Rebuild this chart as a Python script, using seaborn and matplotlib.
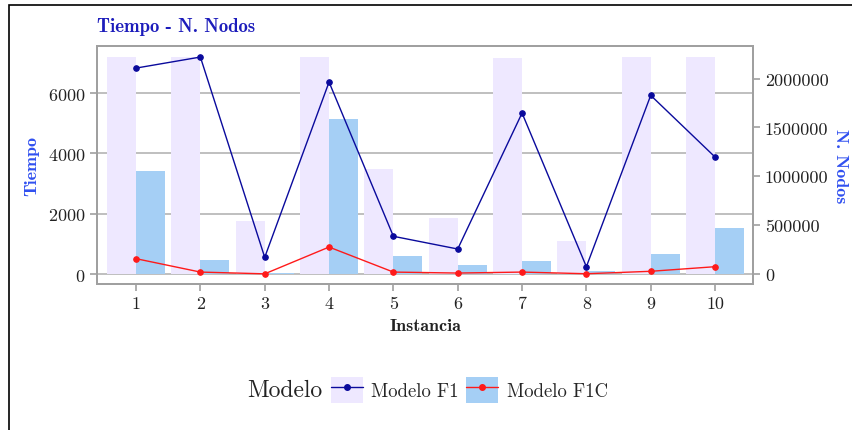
import matplotlib
matplotlib.use("Agg")
import matplotlib.pyplot as plt
import numpy as np
import pandas as pd
import seaborn as sns
from matplotlib.patches import Patch, Rectangle
from matplotlib.lines import Line2D
from matplotlib.ticker import FuncFormatter

instancias = [1, 2, 3, 4, 5, 6, 7, 8, 9, 10]
tiempo_f1 = [7200, 7200, 1760, 7200, 3480, 1860, 7170, 1095, 7200, 7200]
tiempo_f1c = [3420, 465, 30, 5140, 590, 290, 430, 90, 660, 1520]
nodos_f1 = [2107000, 2220000, 171000, 1964000, 386000, 256000, 1647000, 75000, 1828000, 1197000]
nodos_f1c = [157000, 20000, 2000, 276000, 20000, 10000, 20000, 3000, 28000, 75000]
modelos = ["Modelo F1", "Modelo F1C"]

bar_colors = ["#EEE8FF", "#A5CFF5"]
line_colors = ["#0A0A9C", "#FF1A1A"]
grid_gray = "#B4B4B4"
spine_gray = "#A0A0A0"

df = pd.DataFrame({
    "Instancia": instancias * 2,
    "Modelo": [modelos[0]] * 10 + [modelos[1]] * 10,
    "Tiempo": tiempo_f1 + tiempo_f1c,
    "Nodos": nodos_f1 + nodos_f1c,
})

sns.set_style("white")
plt.rcParams["font.family"] = ["cmr10", "DejaVu Serif"]
plt.rcParams["axes.formatter.use_mathtext"] = True

fig = plt.figure(figsize=(8.53, 4.31), dpi=100)
ax = fig.add_axes([97 / 853, 1 - 285 / 431, (753 - 97) / 853, (285 - 47) / 431])

sns.barplot(data=df, x="Instancia", y="Tiempo", hue="Modelo", palette=bar_colors,
            width=0.9, saturation=1, linewidth=0, ax=ax, legend=False, errorbar=None)
ax.set_axisbelow(True)
ax.yaxis.grid(True, color=grid_gray, lw=1.2)
ax.set_ylim(-330, 7560)
ax.set_xlim(-0.607, 9.59)
ax.set_yticks([0, 2000, 4000, 6000])

ax2 = ax.twinx()
sns.pointplot(data=df, x="Instancia", y="Nodos", hue="Modelo", palette=line_colors,
              markers="o", linestyles="-", markersize=4, linewidth=1, errorbar=None,
              ax=ax2, legend=False)
ax2.set_ylim(-102000, 2333000)
ax2.set_yticks([0, 500000, 1000000, 1500000, 2000000])
ax2.yaxis.set_major_formatter(FuncFormatter(lambda v, p: "%d" % v))
ax2.set_xlim(-0.607, 9.59)

for a in (ax, ax2):
    for s in a.spines.values():
        s.set_color(spine_gray)
        s.set_linewidth(1.3)
    a.tick_params(axis="both", colors=spine_gray, labelcolor="#222222", labelsize=13,
                  length=5, width=1.2, direction="out")
ax.tick_params(left=True, bottom=True)
ax2.tick_params(right=True)

ax.set_xlabel("Instancia", family="cmb10", fontsize=13, color="#222222", labelpad=5)
ax.set_ylabel("Tiempo", family="cmb10", fontsize=13, color="#3050F0", labelpad=6)
ax2.set_ylabel("N. Nodos", family="cmb10", fontsize=13, color="#3050F0",
               rotation=270, labelpad=14)
ax.set_title("Tiempo - N. Nodos", family="cmb10", fontsize=13.5, color="#1C1CBB",
             loc="left", pad=11)

# legend: patch with line/marker on top
handles = []
for bc, lc in zip(bar_colors, line_colors):
    handles.append((Patch(facecolor=bc, edgecolor="none"),
                    Line2D([], [], color=lc, lw=1, marker="o", markersize=4)))
fig.text(247 / 853, 1 - 391 / 431, "Modelo", fontsize=17, va="center", ha="left",
         color="#222222")
fig.legend(handles, modelos, loc="center left", bbox_to_anchor=(331 / 853, 1 - 391 / 431),
           ncol=2, frameon=False, fontsize=13.5, handlelength=1.7, handleheight=1.7,
           columnspacing=0.4, handletextpad=0.45, borderaxespad=0, borderpad=0)

fig.patches.append(Rectangle((9 / 853, -0.1), 1.2, 0.1 + (431 - 5.5) / 431,
                             transform=fig.transFigure, fill=False, ec="black", lw=1.2))

fig.savefig("out.png", dpi=100)
